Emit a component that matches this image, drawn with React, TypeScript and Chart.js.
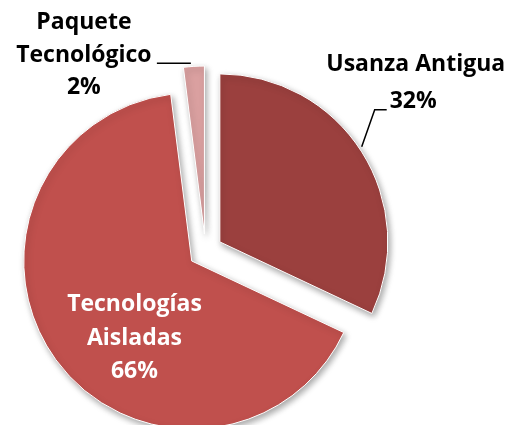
import React, { useEffect, useRef } from "react";
import { Chart, registerables } from "chart.js";

Chart.register(...registerables);

const categories = ["Usanza Antigua", "Tecnologías Aisladas", "Paquete Tecnológico"];
const values = [32, 66, 2];
const labelLines = [["Usanza Antigua", "32%"], ["Tecnologías", "Aisladas", "66%"], ["Paquete", "Tecnológico", "2%"]];
const colors = ["#9B403E", "#C0504D", "#DAA0A0"];
const EXPLODE = 17;

const FONT = "bold 23px 'Open Sans', sans-serif";

const shiftOf = (a: any) => {
  const mid = (a.startAngle + a.endAngle) / 2;
  return { dx: Math.cos(mid) * EXPLODE, dy: Math.sin(mid) * EXPLODE };
};

// draw each library arc element translated outward (exploded pie) with a soft shadow
const explodePlugin = {
  id: "explode",
  beforeDatasetsDraw(chart: any) {
    const ctx = chart.ctx;
    const arcs = chart.getDatasetMeta(0).data;
    ctx.save();
    ctx.shadowColor = "rgba(0,0,0,0.35)";
    ctx.shadowBlur = 6;
    ctx.shadowOffsetX = 2;
    ctx.shadowOffsetY = 3;
    arcs.forEach((a: any) => {
      const s = shiftOf(a);
      ctx.save();
      ctx.translate(s.dx, s.dy);
      a.draw(ctx, chart.chartArea);
      ctx.restore();
    });
    ctx.restore();
    return false;
  },
};

const labelPlugin = {
  id: "pieLabels",
  afterDraw(chart: any) {
    const ctx = chart.ctx;
    const arcs = chart.getDatasetMeta(0).data;
    ctx.save();
    ctx.font = FONT;
    ctx.textBaseline = "middle";
    const edge = (a: any, frac = 1) => {
      const mid = (a.startAngle + a.endAngle) / 2;
      const s = shiftOf(a);
      return {
        x: a.x + s.dx + Math.cos(mid) * a.outerRadius * frac,
        y: a.y + s.dy + Math.sin(mid) * a.outerRadius * frac,
      };
    };
    // Usanza Antigua (outside, right)
    {
      const p = edge(arcs[0]);
      ctx.strokeStyle = "#000";
      ctx.lineWidth = 1.5;
      ctx.beginPath();
      ctx.moveTo(p.x, p.y - 5);
      ctx.lineTo(p.x + 13, p.y - 42);
      ctx.lineTo(p.x + 25, p.y - 42);
      ctx.stroke();
      ctx.fillStyle = "#000";
      ctx.textAlign = "left";
      ctx.fillText(labelLines[0][1], p.x + 28, p.y - 50);
      ctx.textAlign = "center";
      ctx.fillText(labelLines[0][0], p.x + 54, p.y - 87);
    }
    // Tecnologías Aisladas (inside)
    {
      const p = edge(arcs[1], 0.62);
      ctx.fillStyle = "#fff";
      ctx.textAlign = "center";
      const lh = 33.5;
      labelLines[1].forEach((t, i) => ctx.fillText(t, p.x + 27, p.y + 16 + (i - 1) * lh));
    }
    // Paquete Tecnológico (outside, top-left)
    {
      const p = edge(arcs[2]);
      ctx.strokeStyle = "#000";
      ctx.lineWidth = 1.5;
      ctx.beginPath();
      ctx.moveTo(p.x - 3, p.y - 3);
      ctx.lineTo(p.x - 37, p.y - 3);
      ctx.stroke();
      ctx.fillStyle = "#000";
      ctx.textAlign = "center";
      const lh = 32.5;
      labelLines[2].forEach((t, i) => ctx.fillText(t, p.x - 110, p.y - 11 + (i - 1) * lh));
    }
    ctx.restore();
  },
};

export default function App() {
  const ref = useRef<HTMLCanvasElement | null>(null);
  useEffect(() => {
    if (!ref.current) return;
    const chart = new Chart(ref.current, {
      type: "pie",
      data: {
        labels: categories,
        datasets: [
          {
            data: values,
            backgroundColor: colors,
            borderColor: "#ffffff",
            borderWidth: 1,
          },
        ],
      },
      options: {
        responsive: false,
        animation: false,
        radius: 168,
        layout: { padding: { left: 0, right: 99, top: 77, bottom: 0 } },
        plugins: { legend: { display: false }, tooltip: { enabled: false } },
      },
      plugins: [explodePlugin, labelPlugin],
    });
    return () => chart.destroy();
  }, []);
  return (
    <div style={{ position: "absolute", left: 0, top: 0, width: 510, height: 425, background: "#fff" }}>
      <canvas ref={ref} width={510} height={425} />
    </div>
  );
}
